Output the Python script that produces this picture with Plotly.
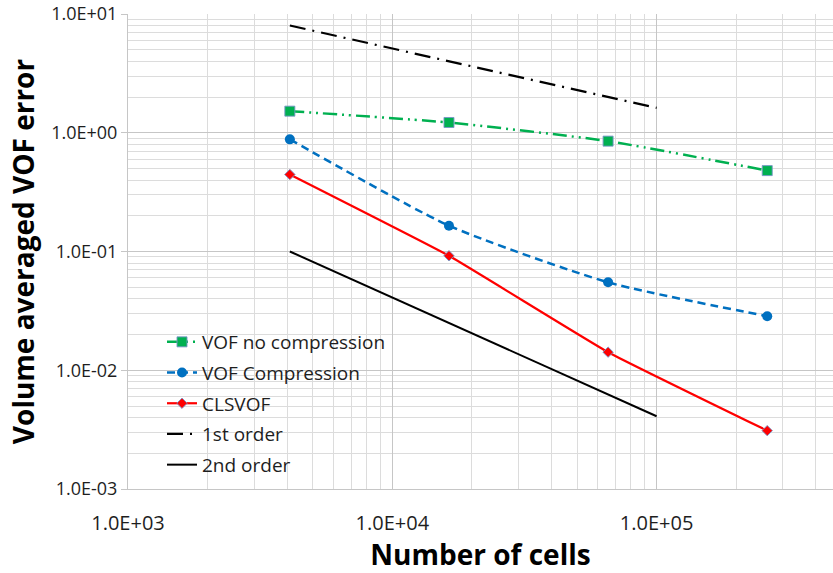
import plotly.graph_objects as go

cells = [4096, 16384, 65536, 262144]
vof_no_comp = [1.52, 1.22, 0.85, 0.48]
vof_comp = [0.88, 0.165, 0.055, 0.0285]
clsvof = [0.445, 0.092, 0.0142, 0.0031]
ref_x = [4096, 100000]
first_order = [8.0, 1.62]
second_order = [0.1, 0.0041]

x_ticks = [1e3, 1e4, 1e5]
x_ticktext = ["1.0E+03", "1.0E+04", "1.0E+05"]
y_ticks = [1e-3, 1e-2, 1e-1, 1e0, 1e1]
y_ticktext = ["1.0E-03", "1.0E-02", "1.0E-01", "1.0E+00", "1.0E+01"]

FONT = "Open Sans"
TXT = "#1e1e1e"
mk_border = dict(color="rgba(120,150,200,0.9)", width=1)

fig = go.Figure()
fig.add_trace(go.Scatter(
    x=cells, y=vof_no_comp, name="VOF no compression", mode="lines+markers", legendgroup="a",
    line=dict(color="#00B050", width=2.5, dash="14px,5px,2px,5px,2px,5px", shape="spline", smoothing=0.5),
    marker=dict(symbol="square", size=10, color="#00B050", line=mk_border)))
fig.add_trace(go.Scatter(
    x=cells, y=vof_comp, name="VOF Compression", mode="lines+markers", legendgroup="b",
    line=dict(color="#0070C0", width=2.5, dash="8px,5px", shape="spline", smoothing=0.6),
    marker=dict(symbol="circle", size=10, color="#0070C0", line=dict(width=0))))
fig.add_trace(go.Scatter(
    x=cells, y=clsvof, name="CLSVOF", mode="lines+markers", legendgroup="c",
    line=dict(color="#FF0000", width=2.2, shape="spline", smoothing=0.3),
    marker=dict(symbol="diamond", size=8, color="#FF0000", line=mk_border)))
fig.add_trace(go.Scatter(
    x=ref_x, y=first_order, name="1st order", mode="lines", legendgroup="d",
    line=dict(color="#000000", width=2.2, dash="16px,7px,2px,7px")))
fig.add_trace(go.Scatter(
    x=ref_x, y=second_order, name="2nd order", mode="lines", legendgroup="e",
    line=dict(color="#000000", width=2)))

W, H = 833, 573
L, T, B, R = 128, 14, 84, 0
decade_px = 264.3
PW = W - L - R
PH = H - T - B
xmax = 3 + PW / decade_px

def px_x(p):
    return (p - L) / PW

def px_y(p):
    return (H - B - p) / PH

fig.update_layout(
    width=W, height=H,
    margin=dict(l=L, r=R, t=T, b=B),
    paper_bgcolor="white", plot_bgcolor="white",
    font=dict(family=FONT, color=TXT),
    showlegend=True,
    legend=dict(x=px_x(162), y=px_y(323), xanchor="left", yanchor="top",
                bgcolor="rgba(0,0,0,0)", borderwidth=0,
                font=dict(size=19, family=FONT, color=TXT),
                traceorder="grouped", tracegroupgap=3, itemwidth=30),
    shapes=[dict(type="rect", xref="paper", yref="paper", layer="below",
                 x0=px_x(133), x1=px_x(391), y0=px_y(482), y1=px_y(327),
                 fillcolor="white", line=dict(width=0))],
    xaxis=dict(type="log", range=[3, xmax],
               tickvals=x_ticks, ticktext=x_ticktext,
               tickfont=dict(size=20, family=FONT, color=TXT),
               ticks="", ticklabelstandoff=16,
               showgrid=True, gridcolor="#c6c6c6", gridwidth=1,
               minor=dict(showgrid=True, gridcolor="#dcdcdc", gridwidth=1, dtick="D1"),
               showline=True, linecolor="#c6c6c6", linewidth=1,
               zeroline=False,
               title=dict(text="<b>Number of cells</b>", font=dict(size=28, family=FONT, color="#000000"), standoff=7)),
    yaxis=dict(type="log", range=[-3, 1],
               tickvals=y_ticks, ticktext=y_ticktext,
               tickfont=dict(size=18, family=FONT, color=TXT),
               ticks="outside", ticklen=6, tickcolor="#c6c6c6",
               showgrid=True, gridcolor="#c6c6c6", gridwidth=1,
               minor=dict(showgrid=True, gridcolor="#dcdcdc", gridwidth=1, dtick="D1"),
               showline=True, linecolor="#c6c6c6", linewidth=1,
               zeroline=False,
               title=dict(text="<b>Volume averaged VOF error</b>", font=dict(size=28, family=FONT, color="#000000"), standoff=8)),
)

fig.write_html("out.html")
